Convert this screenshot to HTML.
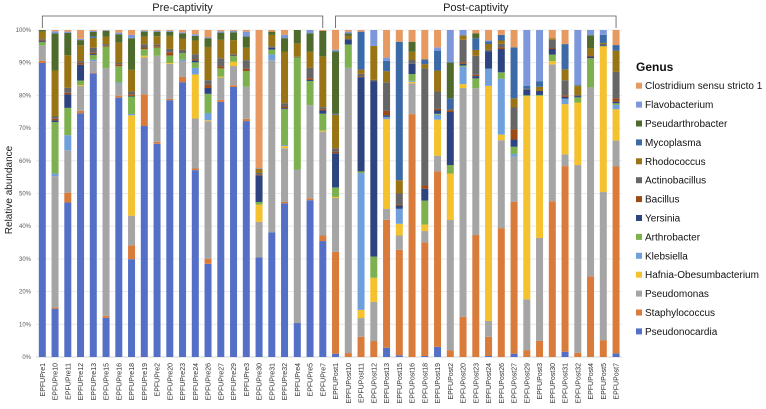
<!DOCTYPE html>
<html><head><meta charset="utf-8"><style>
body{margin:0;background:#fff;width:766px;height:404px;overflow:hidden}
svg{font-family:"Liberation Sans",sans-serif}
</style></head><body>
<svg id="c" width="766" height="404"></svg>
<script>
const categories=["EPFUPre1","EPFUPre10","EPFUPre11","EPFUPre12","EPFUPre13","EPFUPre15","EPFUPre16","EPFUPre18","EPFUPre19","EPFUPre2","EPFUPre20","EPFUPre23","EPFUPre24","EPFUPre26","EPFUPre27","EPFUPre29","EPFUPre3","EPFUPre30","EPFUPre31","EPFUPre32","EPFUPre4","EPFUPre5","EPFUPre7","EPFUPost1","EPFUPost10","EPFUPost11","EPFUPost12","EPFUPost13","EPFUPost15","EPFUPost16","EPFUPost18","EPFUPost19","EPFUPost2","EPFUPost20","EPFUPost23","EPFUPost24","EPFUPost26","EPFUPost27","EPFUPost29","EPFUPost3","EPFUPost30","EPFUPost31","EPFUPost32","EPFUPost4","EPFUPost5","EPFUPost7"];
const genusNames=["Pseudonocardia","Staphylococcus","Pseudomonas","Hafnia-Obesumbacterium","Klebsiella","Arthrobacter","Yersinia","Bacillus","Actinobacillus","Rhodococcus","Mycoplasma","Pseudarthrobacter","Flavobacterium","Clostridium sensu stricto 1"];
const genusColors=["#5470C6","#D97B3B","#A5A5A5","#F4C12F","#6FA0DC","#7DB04E","#2D4480","#9C4A16","#666666","#987415","#3B6AA6","#4E6B2D","#7C98DB","#E69A62"];
const pseudonocardia=[90,14.8,47,74.8,86.5,12,79.4,29.7,70,65.4,78.7,84.3,57.2,28.6,77.8,82.4,72,30.5,38.3,47.2,10.4,48,35.6,1,0,0,0,2.8,0.5,0,0.3,3.1,0,0,0,0.3,0,1,0,0,0,1.6,0,0,0,1.1];
const staphylococcus=[0.7,0.4,3,0.8,0.2,0.6,0.6,4.2,9.6,0.6,0.4,1.6,0.5,1.5,0.6,0.5,0.7,0,0,0.4,0,0.5,1.7,31,1.2,6.2,4.9,38.9,32.4,74.5,34.7,53.6,2.1,12.3,37.3,5.9,39.3,46.5,2.1,4.9,47.5,56.6,1.3,24.6,5.2,57.1];
const pseudomonas=[4.7,40.2,12.9,7.6,3.5,75.7,3.7,9,11.2,26.4,10.7,4.9,15.3,42.3,6.8,5.9,9.8,10.9,52.8,16.5,47,28.6,31.9,16.4,86.8,5.7,12,3.3,4.4,9.4,3.4,4.8,40,70.2,44.9,4.9,26.8,13.8,15.5,31.4,41.8,3.6,57.4,57.6,45.7,7.9];
const hafnia=[0,0,0,0.3,0,0,0,30.5,0.5,0,0.3,0,13.5,0.3,0.3,1.3,0,5.3,0,0.7,0,0,0.3,0.3,0,2.5,7.4,27.3,3.6,0.5,2,11,14.3,1.2,0,72.4,1.7,0,62,43.3,1,15.3,19.1,0,45,9.6];
const klebsiella=[0,0.8,4.6,0,0.4,0,0.3,0.4,0,0,0,0.4,2,2.2,0,0,0,0,1.8,0.3,0,0,0,0,0,41.8,0,0.7,4.6,0.3,0,1.5,0,5.3,0,5.3,17,0.8,0,0,0,1.7,0,0,0,1.3];
const arthrobacter=[1,15.8,8.3,1.4,1.5,6.6,5,5.3,2,2.5,2.3,2,1.7,5.9,2.5,1.7,4.8,0.8,1.5,11,34.3,7.4,5.2,2.9,7.1,0.5,6.5,0,0,2.1,7.3,0.3,2.6,0.4,3,0,2,2.2,0.3,0.3,2,0,1.6,8.9,0,0.5];
const yersinia=[0.3,0.5,4.1,4.8,0.3,0,0,0.2,0,0,0,0,0.6,1.8,0,0,0,8.2,0.5,0.3,0,0.3,1,10.4,1.6,28.8,53.7,0.5,1,3.1,3.6,1,16.3,0.5,0.7,5.3,7.1,2.2,1.7,1.2,1.7,0.5,0.4,0.5,0.3,0.5];
const bacillus=[0.2,0.5,0.5,0.6,0.4,0.3,0.6,0.5,0.5,0.4,1,0,0.4,1,0.6,0,0.7,0.3,0,0.5,0,0.5,0.4,0.5,0,0.3,0,1.3,0.3,0,1,0.5,0.5,0.4,0.4,0,0.5,3.1,0,0,0.3,0.5,0,0.3,0,1];
const actinobacillus=[0.4,0.7,1.5,0.6,1.5,0.5,0.4,0.8,1,0.6,1,1,1.5,1.4,2.5,0.6,2.6,0.4,0.5,1,0.2,3.2,0.6,1,0,0.7,0.5,8.7,3.4,1.2,35.7,5.3,0.4,7,5.8,0.5,1.1,6.7,0.3,0,2.5,4.6,0.3,0,0.4,8.1];
const rhodococcus=[2.3,14.1,9.9,4.8,3,2.3,6.3,6.6,2.3,2.5,4,3.5,4.2,10.2,5.6,4.3,3.8,1.3,3.5,15.9,4.1,5,15.6,10.2,1,1.3,10.4,3.4,4.1,2.5,1.3,6.4,0,1.3,1.8,1.8,1,2.8,0,1.3,0.5,3.3,2.7,2.2,0.3,6.5];
const mycoplasma=[0,0,0,0,0.5,0,0,0,0,0,0,0,0,0,0,0,0,0,0,0,0,0,0,0.3,0,11.6,0,3.1,42.5,0,1.4,6.1,3.3,0,3.6,0.8,1.7,15.6,0.8,1.7,0,7.7,0,0,2.5,1.7];
const pseudarthrobacter=[0.5,11.4,6.8,1.6,1.3,1.7,2.5,9.6,1.5,1.3,1.2,1.6,1.4,2.7,2.2,2.4,3.4,0,1,4.1,4.1,5.6,7.8,19,0.8,0,0,0,0,3.1,0,0,11,0,1.5,0,0,0,0,0,0,0,0.3,4,0,0];
const flavobacterium=[0,0.6,0.4,0.4,0.3,0.2,0.5,1,0.3,0.3,0.3,0.3,0.5,0.3,0.4,0.4,1.5,0.2,0,1,0,1,0,0.5,0.5,0,4.9,1,0,0,0,1,10,1.7,0,0.3,0,0,17.1,15.6,0,0,16.9,1.6,1.5,0];
const clostridium=[0,0.4,0.5,2.7,0.3,0.1,0.8,1.5,0.2,0.3,0.3,0.7,1.3,2.2,0.4,0.3,0.5,42.3,0.5,1.5,0,0,0.3,6,0.5,0.5,0,8.4,3.6,3.6,9,5.3,0,0,1,3.2,1.5,5.3,0,0,2.5,4.3,0,0,0,4.6];
const yTicks=["0%","10%","20%","30%","40%","50%","60%","70%","80%","90%","100%"];
const series=[pseudonocardia,staphylococcus,pseudomonas,hafnia,klebsiella,arthrobacter,yersinia,bacillus,actinobacillus,rhodococcus,mycoplasma,pseudarthrobacter,flavobacterium,clostridium];

const NS="http://www.w3.org/2000/svg";
const svg=document.getElementById('c');
function mk(t,a,p){const e=document.createElementNS(NS,t);for(const k in a)e.setAttribute(k,a[k]);(p||svg).appendChild(e);return e;}
const Y0=357,H=327,X0=42.3,STEP=12.75,BW=7;
const yScale=v=>Y0-v/100*H;
const xScale=i=>X0+STEP*i;

// grid + y ticks
yTicks.forEach((t,k)=>{
  const y=yScale(k*10);
  const g=mk('line',{x1:36,x2:622,y1:y,y2:y,stroke:k==0?'#c8c8c8':'#e6e6e6','stroke-width':0.8});
  
  
  const tx=mk('text',{x:31,y:y+2,'font-size':6,fill:'#595959','text-anchor':'end'});
  tx.textContent=t;
  
  
});
const yt=mk('text',{x:12,y:190,'font-size':10,fill:'#222','text-anchor':'middle',transform:'rotate(-90 12 190)'});
yt.textContent='Relative abundance';



// bars
categories.forEach((c,i)=>{
  let tot=0;series.forEach(s=>tot+=s[i]);
  let cum=0;
  series.forEach((s,g)=>{
    const v=s[i]/tot*100;
    if(v<=0)return;
    const yT=yScale(cum+v),yB=yScale(cum);
    const r=mk('rect',{x:xScale(i)-BW/2,y:yT,width:BW,height:yB-yT,fill:genusColors[g]});
    
    
    cum+=v;
  });
  const x=xScale(i)+2.5;
  const lb=mk('text',{x:x,y:363,'font-size':7,fill:'#333','text-anchor':'end',transform:`rotate(-90 ${x} 363)`});
  lb.textContent=c;
  
  
});

// brackets
function bracket(i0,i1,label,name){
  const x1=xScale(i0),x2=xScale(i1);
  const p=mk('path',{d:`M${x1} 28 V16 H${x2} V28`,fill:'none',stroke:'#555','stroke-width':0.8});
  
  
  const t=mk('text',{x:(x1+x2)/2,y:11,'font-size':11,fill:'#222','text-anchor':'middle'});
  t.textContent=label;
  
  
}
bracket(0,22,'Pre-captivity','pre-captivity');
bracket(23,45,'Post-captivity','post-captivity');

// legend
const lt=mk('text',{x:636,y:71,'font-size':12,'font-weight':'bold',fill:'#111'});
lt.textContent='Genus';


for(let k=0;k<genusNames.length;k++){
  const g=genusNames.length-1-k;
  const y=85.7+k*18.9;
  const sq=mk('rect',{x:636,y:y-3,width:6,height:6,fill:genusColors[g]});
  
  
  const t=mk('text',{x:645,y:y+3.5,'font-size':10,fill:'#111'});
  t.textContent=genusNames[g];
  
  
}
</script>
</body></html>
